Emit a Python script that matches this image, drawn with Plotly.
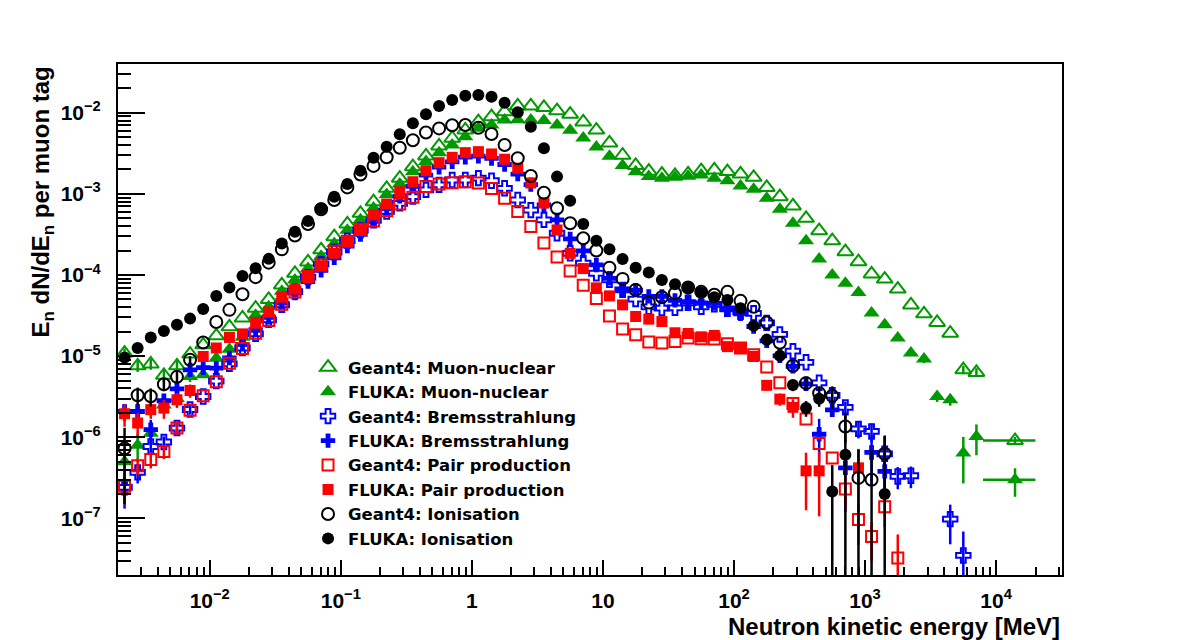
import plotly.graph_objects as go

# Bin centres [MeV] (10 bins/decade) + one wide last bin
E = [0.002239, 0.002818, 0.003548, 0.004467, 0.005623, 0.007079, 0.008913, 0.01122, 0.01413, 0.01778,
     0.02239, 0.02818, 0.03548, 0.04467, 0.05623, 0.07079, 0.08913, 0.1122, 0.1413, 0.1778,
     0.2239, 0.2818, 0.3548, 0.4467, 0.5623, 0.7079, 0.8913, 1.122, 1.413, 1.778,
     2.239, 2.818, 3.548, 4.467, 5.623, 7.079, 8.913, 11.22, 14.13, 17.78,
     22.39, 28.18, 35.48, 44.67, 56.23, 70.79, 89.13, 112.2, 141.3, 177.8,
     223.9, 281.8, 354.8, 446.7, 562.3, 707.9, 891.3, 1122, 1413, 1778,
     2239, 2818, 3548, 4467, 5623, 7079,
     13950]
WIDE_BIN_INDEX = 66
WIDE_BIN_HALF = 6000

G4_MN = [1.09e-5, 7.6e-6, 8.0e-6, 5.8e-6, 7.6e-6, 1.06e-5, 1.38e-5, 1.78e-5, 2.3e-5, 2.95e-5,
         3.9e-5, 5.0e-5, 7.55e-5, 1.05e-4, 1.45e-4, 2.04e-4, 2.97e-4, 4.26e-4, 5.76e-4, 8.0e-4,
         1.17e-3, 1.56e-3, 2.16e-3, 2.93e-3, 3.89e-3, 4.84e-3, 6.12e-3, 7.75e-3, 8.93e-3, 1.03e-2,
         1.21e-2, 1.21e-2, 1.16e-2, 1.06e-2, 9.6e-3, 7.7e-3, 6.1e-3, 4.24e-3, 2.99e-3, 2.24e-3,
         1.9e-3, 1.75e-3, 1.69e-3, 1.76e-3, 1.93e-3, 1.97e-3, 1.88e-3, 1.76e-3, 1.6e-3, 1.2e-3,
         9.24e-4, 7.1e-4, 5.0e-4, 3.52e-4, 2.65e-4, 1.94e-4, 1.46e-4, 1.03e-4, 8.9e-5, 6.7e-5,
         4.28e-5, 3.32e-5, 2.6e-5, 1.92e-5, 6.8e-6, 6.3e-6,
         9.1e-7]
G4_MN_ERR = [1.5e-6, 1.2e-6, 1.2e-6, 1.0e-6, 1.2e-6, 0, 0, 0, 0, 0,
             0, 0, 0, 0, 0, 0, 0, 0, 0, 0,
             0, 0, 0, 0, 0, 0, 0, 0, 0, 0,
             0, 0, 0, 0, 0, 0, 0, 0, 0, 0,
             0, 0, 0, 0, 0, 0, 0, 0, 0, 0,
             0, 0, 0, 0, 0, 0, 0, 0, 0, 0,
             0, 0, 0, 0, 8e-7, 8e-7,
             1.0e-7]

FL_MN = [5.0e-7, 8.0e-7, 1.12e-6, 2.5e-6, 3.0e-6, 5.6e-6, 5.9e-6, 9.4e-6, 1.22e-5, 1.71e-5,
         3.2e-5, 4.07e-5, 6.3e-5, 8.7e-5, 1.2e-4, 1.7e-4, 2.45e-4, 3.55e-4, 4.8e-4, 6.7e-4,
         9.8e-4, 1.32e-3, 1.87e-3, 2.5e-3, 3.21e-3, 4.0e-3, 5.06e-3, 6.43e-3, 7.06e-3, 8.13e-3,
         8.2e-3, 8.13e-3, 8.0e-3, 7.06e-3, 6.07e-3, 4.88e-3, 3.78e-3, 2.9e-3, 2.24e-3, 1.87e-3,
         1.63e-3, 1.56e-3, 1.6e-3, 1.65e-3, 1.71e-3, 1.56e-3, 1.45e-3, 1.25e-3, 1.14e-3, 8.83e-4,
         6.46e-4, 4.35e-4, 2.65e-4, 1.57e-4, 1.0e-4, 7.9e-5, 6.07e-5, 3.39e-5, 2.43e-5, 1.67e-5,
         1.09e-5, 9.2e-6, 3.18e-6, 2.9e-6, 6.4e-7, 1.02e-6,
         3.0e-7]
FL_MN_ERR = [2.5e-7, 3e-7, 3e-7, 5e-7, 6e-7, 8e-7, 0, 0, 0, 0,
             0, 0, 0, 0, 0, 0, 0, 0, 0, 0,
             0, 0, 0, 0, 0, 0, 0, 0, 0, 0,
             0, 0, 0, 0, 0, 0, 0, 0, 0, 0,
             0, 0, 0, 0, 0, 0, 0, 0, 0, 0,
             0, 0, 0, 0, 0, 0, 0, 0, 0, 0,
             0, 1e-6, 4.5e-7, 4.5e-7, 3.7e-7, 4.2e-7,
             1.15e-7]

G4_BR = [2.42e-7, 3.7e-7, 7.7e-7, 8.75e-7, 1.3e-6, 2.2e-6, 3.18e-6, 4.92e-6, 8.03e-6, 1.26e-5,
         1.88e-5, 2.8e-5, 4.28e-5, 6.25e-5, 9.4e-5, 1.36e-4, 1.92e-4, 2.65e-4, 3.57e-4, 4.71e-4,
         6.07e-4, 7.64e-4, 9.24e-4, 1.12e-3, 1.29e-3, 1.48e-3, 1.48e-3, 1.56e-3, 1.45e-3, 1.17e-3,
         8.4e-4, 6.3e-4, 4.78e-4, 3.27e-4, 1.85e-4, 1.4e-4, 1.05e-4, 8.7e-5, 6.56e-5, 5.04e-5,
         4.05e-5, 3.9e-5, 3.94e-5, 4.53e-5, 4.05e-5, 4.35e-5, 3.83e-5, 3.51e-5, 3.37e-5, 2.57e-5,
         1.85e-5, 1.15e-5, 8.4e-6, 4.69e-6, 3.29e-6, 2.34e-6, 1.27e-6, 1.18e-6, 6.26e-7, 3.29e-7,
         3.36e-7, None, None, 9.8e-8, 3.5e-8, None,
         None]
G4_BR_ERR = [1.1e-7, 1e-7, 1.5e-7, 1.5e-7, 2e-7, 3e-7, 0, 0, 0, 0,
             0, 0, 0, 0, 0, 0, 0, 0, 0, 0,
             0, 0, 0, 0, 0, 0, 0, 0, 0, 0,
             0, 0, 0, 0, 0, 0, 0, 0, 0, 0,
             0, 0, 0, 0, 0, 0, 0, 0, 0, 0,
             0, 0, 0, 0, 0, 4e-7, 3e-7, 3e-7, 2e-7, 1e-7,
             1e-7, 0, 0, 5e-8, 3.4e-8, 0,
             0]

FL_BR = [2.08e-6, 2.08e-6, 1.24e-6, 2.82e-6, 3.95e-6, 6.78e-6, 7.2e-6, 7.1e-6, 9.5e-6, 1.4e-5,
         2.1e-5, 3.0e-5, 4.5e-5, 6.0e-5, 8.3e-5, 1.14e-4, 1.63e-4, 2.27e-4, 3.16e-4, 4.84e-4,
         6.6e-4, 9.3e-4, 1.24e-3, 1.7e-3, 2.13e-3, 2.48e-3, 2.83e-3, 2.91e-3, 2.73e-3, 2.3e-3,
         1.75e-3, 1.3e-3, 7.3e-4, 4.78e-4, 2.79e-4, 1.98e-4, 1.33e-4, 9.1e-5, 6.55e-5, 6.5e-5,
         5.45e-5, 5.45e-5, 4.87e-5, 4.67e-5, 4.53e-5, 4.47e-5, 3.79e-5, 3.32e-5, 2.32e-5, 1.54e-5,
         1.01e-5, 7.5e-6, 4.56e-6, 1.09e-6, 2.18e-6, 4.2e-7, None, 6.5e-7, 3.8e-7, None,
         None, None, None, None, None, None,
         None]
FL_BR_ERR = [5e-7, 5e-7, 4e-7, 6e-7, 7e-7, 8e-7, 0, 0, 0, 0,
             0, 0, 0, 0, 0, 0, 0, 0, 0, 0,
             0, 0, 0, 0, 0, 0, 0, 0, 0, 0,
             0, 0, 0, 0, 0, 0, 0, 0, 0, 0,
             0, 0, 0, 0, 0, 0, 0, 0, 0, 0,
             0, 1e-6, 6e-7, 6e-7, 4e-7, 3e-7, 0, 4e-7, 2e-7, 0,
             0, 0, 0, 0, 0, 0,
             0]

G4_PP = [2.5e-7, 4.46e-7, 5.33e-7, 6.7e-7, 1.3e-6, 2.15e-6, 3.25e-6, 4.85e-6, 8.2e-6, 1.24e-5,
         1.92e-5, 2.75e-5, 4.35e-5, 6.15e-5, 9.6e-5, 1.33e-4, 1.96e-4, 2.6e-4, 3.65e-4, 4.62e-4,
         6.2e-4, 7.5e-4, 9.08e-4, 1.23e-3, 1.32e-3, 1.37e-3, 1.41e-3, 1.36e-3, 1.16e-3, 8.83e-4,
         6.04e-4, 3.95e-4, 2.47e-4, 1.67e-4, 1.12e-4, 7.45e-5, 5.15e-5, 3.13e-5, 2.16e-5, 1.83e-5,
         1.49e-5, 1.45e-5, 1.51e-5, 1.67e-5, 1.64e-5, 1.63e-5, 1.42e-5, 1.26e-5, 1.04e-5, 7.37e-6,
         4.69e-6, 2.61e-6, 1.68e-6, 8.4e-7, 5.55e-7, 2.3e-7, 9.7e-8, 6.0e-8, 1.39e-7, 3.25e-8,
         None, None, None, None, None, None,
         None]
G4_PP_ERR = [1e-7, 1e-7, 1.2e-7, 1.3e-7, 2e-7, 0, 0, 0, 0, 0,
             0, 0, 0, 0, 0, 0, 0, 0, 0, 0,
             0, 0, 0, 0, 0, 0, 0, 0, 0, 0,
             0, 0, 0, 0, 0, 0, 0, 0, 0, 0,
             0, 0, 0, 0, 0, 0, 0, 0, 0, 0,
             0, 0, 0, 0, 0, 1e-7, 5e-8, 3e-8, 6e-8, 3.1e-8,
             0, 0, 0, 0, 0, 0,
             0]

FL_PP = [1.95e-6, 1.5e-6, 2.19e-6, 2.29e-6, 2.9e-6, 3.77e-6, 9.9e-6, 1.26e-5, 1.7e-5, 1.88e-5,
         2.6e-5, 3.5e-5, 5.33e-5, 6.7e-5, 9.55e-5, 1.29e-4, 1.85e-4, 2.58e-4, 3.59e-4, 5.5e-4,
         7.5e-4, 1.06e-3, 1.41e-3, 1.93e-3, 2.42e-3, 2.82e-3, 3.22e-3, 3.31e-3, 3.1e-3, 2.67e-3,
         2.07e-3, 1.36e-3, 7.7e-4, 3.59e-4, 1.85e-4, 1.2e-4, 6.94e-5, 5.53e-5, 4.28e-5, 3.08e-5,
         2.86e-5, 2.67e-5, 1.94e-5, 1.9e-5, 1.73e-5, 1.8e-5, 1.31e-5, 1.26e-5, 9.9e-6, 4.37e-6,
         2.95e-6, 2.34e-6, 3.86e-7, 3.86e-7, None, None, 4.2e-7, None, None, None,
         None, None, None, None, None, None,
         None]
FL_PP_ERR = [6e-7, 5e-7, 5e-7, 6e-7, 6e-7, 7e-7, 1e-6, 0, 0, 0,
             0, 0, 0, 0, 0, 0, 0, 0, 0, 0,
             0, 0, 0, 0, 0, 0, 0, 0, 0, 0,
             0, 0, 0, 0, 0, 0, 0, 0, 0, 0,
             0, 0, 0, 0, 0, 0, 0, 0, 1e-6, 6e-7,
             5e-7, 6e-7, 2.6e-7, 2.8e-7, 0, 0, 3e-7, 0, 0, 0,
             0, 0, 0, 0, 0, 0,
             0]

G4_ION = [7.3e-7, 3.29e-6, 3.2e-6, 4.5e-6, 5.56e-6, 9.0e-6, 1.47e-5, 2.64e-5, 3.72e-5, 5.8e-5,
          9.4e-5, 1.42e-4, 2.07e-4, 3.07e-4, 4.25e-4, 6.46e-4, 8.4e-4, 1.2e-3, 1.73e-3, 2.21e-3,
          2.83e-3, 3.7e-3, 4.57e-3, 5.7e-3, 6.4e-3, 7.0e-3, 7.06e-3, 6.5e-3, 5.47e-3, 4.0e-3,
          2.74e-3, 1.66e-3, 1.03e-3, 6.65e-4, 4.35e-4, 2.84e-4, 2.0e-4, 1.23e-4, 8.95e-5, 6.55e-5,
          4.57e-5, 5.33e-5, 5.97e-5, 7.0e-5, 6.2e-5, 5.7e-5, 6.2e-5, 4.8e-5, 4.05e-5, 2.6e-5,
          1.46e-5, 7.6e-6, 4.65e-6, 3.5e-6, 3.24e-6, 1.36e-6, 3.16e-7, 3.0e-7, 6.27e-7, None,
          None, None, None, None, None, None,
          None]
G4_ION_ERR = [5.8e-7, 8e-7, 8e-7, 8e-7, 9e-7, 1e-6, 0, 0, 0, 0,
              0, 0, 0, 0, 0, 0, 0, 0, 0, 0,
              0, 0, 0, 0, 0, 0, 0, 0, 0, 0,
              0, 0, 0, 0, 0, 0, 0, 0, 0, 0,
              0, 0, 0, 0, 0, 0, 0, 0, 0, 0,
              0, 0, 8e-7, 7e-7, 1e-6, 5e-7, 3.9e-7, 4e-7, 4e-7, 0,
              0, 0, 0, 0, 0, 0,
              0]

FL_ION = [9.6e-6, 1.26e-5, 1.7e-5, 2.04e-5, 2.43e-5, 2.9e-5, 3.8e-5, 5.5e-5, 7.0e-5, 9.7e-5,
          1.21e-4, 1.58e-4, 2.44e-4, 3.42e-4, 4.63e-4, 6.65e-4, 9.2e-4, 1.32e-3, 1.93e-3, 2.79e-3,
          3.81e-3, 5.42e-3, 7.4e-3, 9.55e-3, 1.21e-2, 1.43e-2, 1.62e-2, 1.65e-2, 1.57e-2, 1.33e-2,
          1.01e-2, 6.7e-3, 3.65e-3, 1.63e-3, 8.2e-4, 4.26e-4, 2.65e-4, 2.08e-4, 1.57e-4, 1.23e-4,
          1.07e-4, 8.7e-5, 7.7e-5, 7.1e-5, 6.07e-5, 5.33e-5, 4.93e-5, 3.9e-5, 2.36e-5, 1.59e-5,
          1.01e-5, 4.4e-6, 2.29e-6, 2.98e-6, 2.15e-7, 6.1e-7, None, None, 2.0e-7, None,
          None, None, None, None, None, None,
          None]
FL_ION_ERR = [1.5e-6, 0, 0, 0, 0, 0, 0, 0, 0, 0,
              0, 0, 0, 0, 0, 0, 0, 0, 0, 0,
              0, 0, 0, 0, 0, 0, 0, 0, 0, 0,
              0, 0, 0, 0, 0, 0, 0, 0, 0, 0,
              0, 0, 0, 0, 0, 0, 0, 0, 0, 0,
              0, 7e-7, 5e-7, 6e-7, 2.4e-7, 1.39e-6, 0, 0, 8.5e-7, 0,
              0, 0, 0, 0, 0, 0,
              0]

X_TICKS = [0.01, 0.1, 1, 10, 100, 1000, 10000]
X_TICKTEXT = ["10<sup>\u22122</sup>", "10<sup>\u22121</sup>", "1", "10",
              "10<sup>2</sup>", "10<sup>3</sup>", "10<sup>4</sup>"]
Y_TICKS = [1e-7, 1e-6, 1e-5, 1e-4, 1e-3, 1e-2]
Y_TICKTEXT = ["10<sup>\u22127</sup>", "10<sup>\u22126</sup>", "10<sup>\u22125</sup>",
              "10<sup>\u22124</sup>", "10<sup>\u22123</sup>", "10<sup>\u22122</sup>"]

GREEN = "rgb(0,153,0)"
BLUE = "rgb(0,0,255)"
RED = "rgb(255,0,0)"
BLACK = "rgb(0,0,0)"

series = [
    ("Geant4: Muon-nuclear", G4_MN, G4_MN_ERR, "triangle-up-open", GREEN, 14),
    ("FLUKA: Muon-nuclear", FL_MN, FL_MN_ERR, "triangle-up", GREEN, 14),
    ("Geant4: Bremsstrahlung", G4_BR, G4_BR_ERR, "cross-open", BLUE, 12),
    ("FLUKA: Bremsstrahlung", FL_BR, FL_BR_ERR, "cross", BLUE, 12),
    ("Geant4: Pair production", G4_PP, G4_PP_ERR, "square-open", RED, 11),
    ("FLUKA: Pair production", FL_PP, FL_PP_ERR, "square", RED, 11),
    ("Geant4: Ionisation", G4_ION, G4_ION_ERR, "circle-open", BLACK, 12),
    ("FLUKA: Ionisation", FL_ION, FL_ION_ERR, "circle", BLACK, 12),
]

fig = go.Figure()
for name, ys, errs, sym, col, sz in series:
    xerr = [0] * len(E)
    if ys[WIDE_BIN_INDEX] is not None:
        xerr[WIDE_BIN_INDEX] = WIDE_BIN_HALF
    fig.add_trace(go.Scatter(
        x=E, y=ys, name=name, mode="markers",
        marker=dict(symbol=sym, color=col, size=sz,
                    line=dict(color=col, width=2 if "open" in sym else 0)),
        error_y=dict(type="data", array=errs, visible=True, width=0, thickness=2.5, color=col),
        error_x=dict(type="data", array=xerr, visible=True, width=0, thickness=2.5, color=col),
        cliponaxis=True,
    ))

def minor_vals(lo_exp, hi_exp):
    vals = []
    for e in range(lo_exp, hi_exp + 1):
        for m in range(2, 10):
            vals.append(m * 10 ** e)
    return vals

FONT = "Liberation Sans, Arial, Helvetica, sans-serif"
LEG_FONT = "DejaVu Sans, Liberation Sans, sans-serif"

fig.update_layout(
    width=1182, height=640,
    margin=dict(l=118, r=120, t=64, b=65, pad=0),
    paper_bgcolor="white", plot_bgcolor="white",
    showlegend=True,
    legend=dict(x=0.2013, y=0.4403, xanchor="left", yanchor="top",
                bgcolor="rgba(0,0,0,0)", borderwidth=0,
                font=dict(family=LEG_FONT, size=16.5, color="black", weight="bold"),
                tracegroupgap=0, itemsizing="trace"),
    xaxis=dict(type="log", range=[-2.70, 4.503], showgrid=False, zeroline=False,
               showline=True, linecolor="black", linewidth=2, mirror=True,
               ticks="inside", ticklen=15, tickwidth=2, tickcolor="black",
               tickmode="array", tickvals=X_TICKS, ticktext=X_TICKTEXT,
               ticklabelstandoff=6,
               tickfont=dict(family=FONT, size=21, color="black", weight="bold"),
               minor=dict(ticks="inside", ticklen=8, tickwidth=1.5, tickcolor="black",
                          tickmode="array", tickvals=minor_vals(-3, 4), showgrid=False)),
    yaxis=dict(type="log", range=[-7.697, -1.40], showgrid=False, zeroline=False,
               showline=True, linecolor="black", linewidth=2, mirror=True,
               ticks="inside", ticklen=27, tickwidth=2, tickcolor="black",
               tickmode="array", tickvals=Y_TICKS, ticktext=Y_TICKTEXT,
               ticklabelstandoff=11,
               tickfont=dict(family=FONT, size=21, color="black", weight="bold"),
               minor=dict(ticks="inside", ticklen=13, tickwidth=1.5, tickcolor="black",
                          tickmode="array", tickvals=minor_vals(-8, -2), showgrid=False)),
    annotations=[
        dict(text="Neutron kinetic energy [MeV]", x=1, y=-0.1, xref="paper", yref="paper",
             xanchor="right", yanchor="middle", showarrow=False,
             font=dict(family=FONT, size=24, color="black", weight="bold")),
        dict(text="E<sub>n</sub> dN/dE<sub>n</sub> per muon tag", x=-0.0795, y=1,
             xref="paper", yref="paper", xanchor="center", yanchor="top", textangle=-90,
             showarrow=False, font=dict(family=FONT, size=24, color="black", weight="bold")),
    ],
)

fig.write_html("out.html")
